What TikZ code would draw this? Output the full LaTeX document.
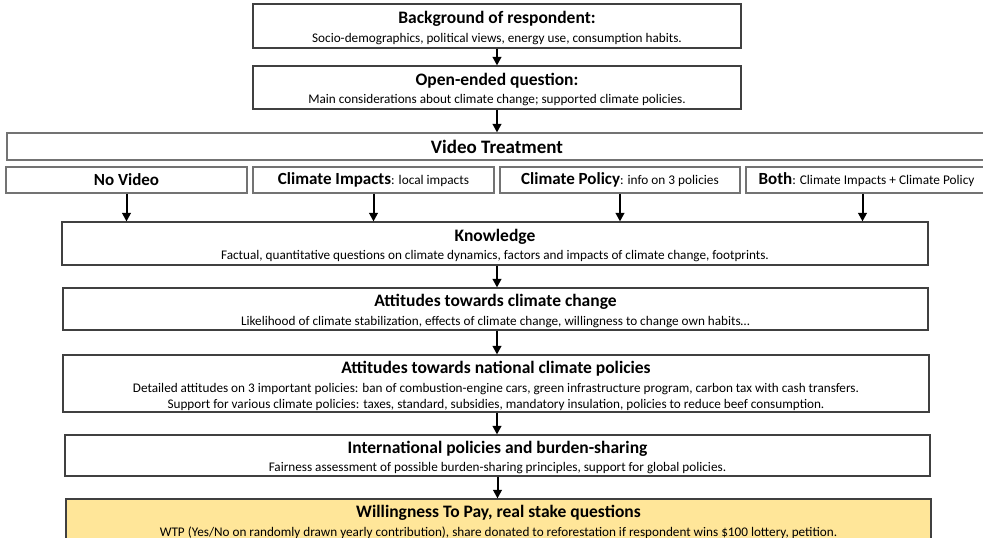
\documentclass[tikz,border=0pt]{standalone}
\usepackage{fontspec}
\setmainfont{Carlito}
\usetikzlibrary{arrows.meta}
\newcommand{\bigt}[1]{{\fontsize{17.5}{19}\selectfont\bfseries #1}}
\newcommand{\rowt}[1]{{\fontsize{17}{19}\selectfont\bfseries #1}}
\newcommand{\smt}[1]{{\fontsize{13.3}{16}\selectfont #1}}
\tikzset{
  box/.style={draw=black!75, line width=1.1pt, fill=white, inner sep=0pt, align=center,
              font=\fontsize{13.2}{16.5}\selectfont},
  vbox/.style={box, draw=black!55},
  txt/.style={inner sep=0pt, align=center, font=\fontsize{13.2}{16.5}\selectfont},
  arr/.style={-{Triangle[length=8.5pt,width=8.5pt]}, line width=2pt, black},
}
\begin{document}
\begin{tikzpicture}[x=1pt,y=-1pt]
\useasboundingbox (0,0) rectangle (983,538);
\clip (0,0) rectangle (983,538);
\node[box, minimum width=488, minimum height=44] (b1) at (497,26) {};
\node[txt] (b1t) at ([yshift=-2pt]b1.center)
  {\bigt{Background of respondent:}\\[2pt]Socio-demographics, political views, energy use, consumption habits.};
\node[box, minimum width=488, minimum height=43] (b2) at (497,87.5) {};
\node[txt] (b2t) at ([yshift=-2pt]b2.center)
  {\bigt{Open-ended question:}\\[2pt]Main considerations about climate change; supported climate policies.};
\node[vbox, minimum width=980, minimum height=27] (vt) at (497,146.5) {{\fontsize{19}{20}\selectfont\bfseries Video Treatment}};
\node[vbox, minimum width=241, minimum height=26] (nv) at (126.5,180) {\rowt{No Video}};
\node[vbox, minimum width=241, minimum height=26] (ci) at (373.5,180) {\rowt{Climate Impacts}\smt{: local impacts}};
\node[vbox, minimum width=240, minimum height=26] (cp) at (620,180) {\rowt{Climate Policy}\smt{: info on 3 policies}};
\node[vbox, minimum width=241, minimum height=26] (bo) at (866.5,180) {\rowt{Both}\smt{: Climate Impacts + Climate Policy}};
\node[box, minimum width=866, minimum height=43] (kn) at (495,243.5) {};
\node[txt] (knt) at ([yshift=-2pt]kn.center)
  {\bigt{Knowledge}\\[2pt]Factual, quantitative questions on climate dynamics, factors and impacts of climate change, footprints.};
\node[box, minimum width=865, minimum height=42] (at) at (495.5,309) {};
\node[txt] (att) at ([yshift=-2pt]at.center)
  {\bigt{Attitudes towards climate change}\\[2pt]Likelihood of climate stabilization, effects of climate change, willingness to change own habits\dots};
\node[box, minimum width=866, minimum height=57] (na) at (496,383.5) {};
\node[txt] (nat) at ([yshift=-2.5pt]na.center)
  {\bigt{Attitudes towards national climate policies}\\[2pt]Detailed attitudes on 3 important policies: ban of combustion-engine cars, green infrastructure program, carbon tax with cash transfers.\\Support for various climate policies: taxes, standard, subsidies, mandatory insulation, policies to reduce beef consumption.};
\node[box, minimum width=865, minimum height=41] (in) at (497.5,455.5) {};
\node[txt] (int) at ([yshift=-2pt]in.center)
  {\bigt{International policies and burden-sharing}\\[2pt]Fairness assessment of possible burden-sharing principles, support for global policies.};
\node[box, fill={rgb,255:red,255;green,230;blue,153}, minimum width=865, minimum height=42] (wt) at (498.5,520) {};
\node[txt] (wtt) at ([yshift=-2pt]wt.center)
  {\bigt{Willingness To Pay, real stake questions}\\[2pt]WTP (Yes/No on randomly drawn yearly contribution), share donated to reforestation if respondent wins \$100 lottery, petition.};
\draw[arr] (b1.south) -- (b2.north);
\draw[arr] (b2.south) -- (b2.south |- vt.north);
\draw[arr] (nv.south) -- (nv.south |- kn.north);
\draw[arr] (ci.south) -- (ci.south |- kn.north);
\draw[arr] (cp.south) -- (cp.south |- kn.north);
\draw[arr] ([xshift=-4pt]bo.south) -- ([xshift=-4pt]bo.south |- kn.north);
\draw[arr] ([xshift=2pt]kn.south) -- ([xshift=2pt]kn.south |- at.north);
\draw[arr] ([xshift=1.5pt]at.south) -- ([xshift=1.5pt]at.south |- na.north);
\draw[arr] ([xshift=1pt]na.south) -- ([xshift=1pt]na.south |- in.north);
\draw[arr] (in.south) -- (in.south |- wt.north);
\end{tikzpicture}
\end{document}
